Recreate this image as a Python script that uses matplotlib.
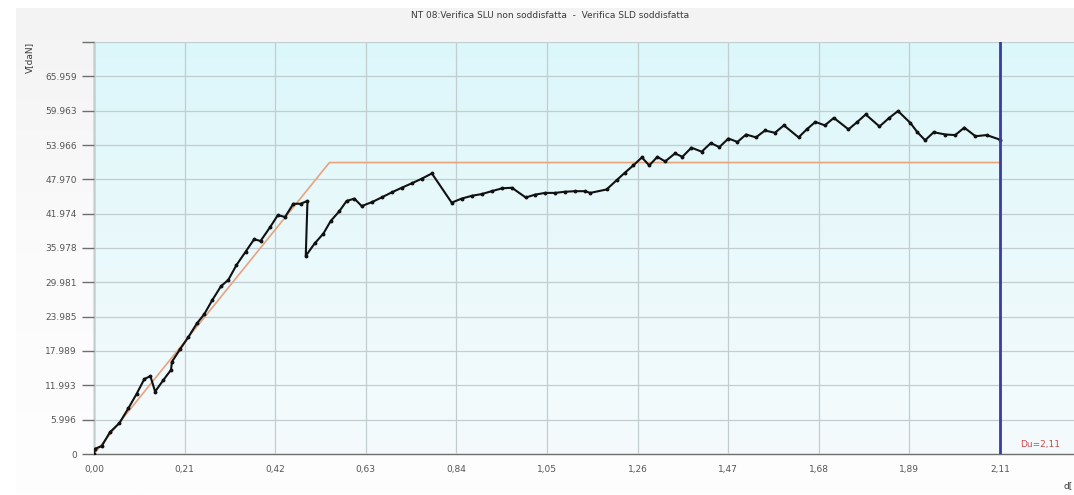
import numpy as np
import matplotlib
matplotlib.use("Agg")
import matplotlib.pyplot as plt
from matplotlib.ticker import FixedLocator, FixedFormatter
from matplotlib.colors import LinearSegmentedColormap

# --- data -------------------------------------------------------------
title = "NT 08:Verifica SLU non soddisfatta  -  Verifica SLD soddisfatta"
y_label = "V[daN]"
x_label = "d["

# capacity curve (displacement d, shear V)
curve_d = [0.000, 0.002, 0.018, 0.037, 0.059, 0.080, 0.099, 0.117, 0.131, 0.142,
           0.161, 0.179, 0.181, 0.200, 0.219, 0.239, 0.256, 0.275, 0.295, 0.312,
           0.331, 0.352, 0.372, 0.387, 0.409, 0.427, 0.444, 0.463, 0.480, 0.496,
           0.492, 0.513, 0.533, 0.550, 0.570, 0.587, 0.605, 0.622, 0.646, 0.668,
           0.692, 0.715, 0.739, 0.762, 0.785, 0.831, 0.854, 0.878, 0.901, 0.924,
           0.948, 0.971, 1.003, 1.025, 1.048, 1.071, 1.094, 1.118, 1.141, 1.153,
           1.191, 1.214, 1.233, 1.253, 1.273, 1.290, 1.309, 1.327, 1.350, 1.367,
           1.388, 1.412, 1.433, 1.453, 1.474, 1.495, 1.515, 1.538, 1.559, 1.582,
           1.603, 1.637, 1.656, 1.676, 1.698, 1.719, 1.753, 1.772, 1.793, 1.825,
           1.846, 1.868, 1.897, 1.913, 1.931, 1.951, 1.978, 2.001, 2.022, 2.048,
           2.074, 2.105]
curve_v = [0.0, 0.9, 1.4, 3.8, 5.4, 8.0, 10.5, 13.1, 13.6, 10.9,
           12.9, 14.7, 16.1, 18.3, 20.4, 22.8, 24.4, 26.9, 29.3, 30.4,
           33.0, 35.3, 37.5, 37.2, 39.6, 41.7, 41.4, 43.7, 43.7, 44.2,
           34.6, 36.8, 38.5, 40.7, 42.4, 44.2, 44.6, 43.3, 44.0, 44.8,
           45.7, 46.5, 47.3, 48.1, 49.0, 43.9, 44.6, 45.1, 45.4, 45.9,
           46.4, 46.5, 44.8, 45.3, 45.6, 45.6, 45.8, 45.9, 45.9, 45.6,
           46.2, 47.8, 49.1, 50.4, 51.8, 50.4, 51.9, 51.1, 52.5, 51.9,
           53.5, 52.8, 54.3, 53.6, 55.1, 54.5, 55.8, 55.3, 56.5, 56.1,
           57.4, 55.3, 56.7, 58.0, 57.4, 58.7, 56.7, 57.9, 59.3, 57.2,
           58.6, 59.9, 57.8, 56.2, 54.8, 56.2, 55.8, 55.7, 57.0, 55.5,
           55.7, 54.9]

# equivalent bilinear curve
bilinear_d = [0.0, 0.547, 2.105]
bilinear_v = [0.0, 50.9, 50.9]

# ultimate displacement
du = 2.105
du_text = "Du=2,11"

# axis ticks
x_ticks = [0.0, 0.2105, 0.421, 0.6315, 0.842, 1.0525, 1.263, 1.4735, 1.684, 1.8945, 2.105]
x_tick_labels = ["0,00", "0,21", "0,42", "0,63", "0,84", "1,05", "1,26", "1,47", "1,68", "1,89", "2,11"]
y_ticks = [0.0, 5.996, 11.993, 17.989, 23.985, 29.981, 35.978, 41.974, 47.970, 53.966,
           59.963, 65.959, 71.955]
y_tick_labels = ["0", "5.996", "11.993", "17.989", "23.985", "29.981", "35.978", "41.974",
                 "47.970", "53.966", "59.963", "65.959", ""]

# --- figure -----------------------------------------------------------
W, H = 1074, 495
fig = plt.figure(figsize=(W / 100, H / 100), dpi=100)
fig.patch.set_facecolor("white")

# soft grey panel behind the chart
grad = np.linspace(0, 1, 256).reshape(-1, 1)
bg = fig.add_axes([16 / W, 0, 1 - 16 / W, 1 - 8 / H], zorder=-10)
panel_cmap = LinearSegmentedColormap.from_list("panel", ["#fefefe", "#fbfbfb", "#f3f3f3"])
bg.imshow(grad, aspect="auto", cmap=panel_cmap, origin="lower", extent=[0, 1, 0, 1])
bg.set_axis_off()

left = 94 / W
bottom = 1 - 454 / H
top = 1 - 42 / H
ax = fig.add_axes([left, bottom, 1 - left, top - bottom])

x_max = (W - 94) * 0.0023234
y_max = 71.955
ax.set_xlim(0, x_max)
ax.set_ylim(0, y_max)

# plot-area gradient
area_cmap = LinearSegmentedColormap.from_list("area", ["#f5fbfd", "#eaf9fb", "#dcf7fa"])
ax.imshow(grad, aspect="auto", cmap=area_cmap, origin="lower",
          extent=[0, x_max, 0, y_max], zorder=0)

ax.xaxis.set_major_locator(FixedLocator(x_ticks))
ax.xaxis.set_major_formatter(FixedFormatter(x_tick_labels))
ax.yaxis.set_major_locator(FixedLocator(y_ticks))
ax.yaxis.set_major_formatter(FixedFormatter(y_tick_labels))
ax.grid(True, color="#c2cdd2", linewidth=0.9, zorder=1)
ax.set_axisbelow(False)

for side in ("top", "right"):
    ax.spines[side].set_visible(False)
for side in ("left", "bottom"):
    ax.spines[side].set_color("#6e6e6e")
    ax.spines[side].set_linewidth(1.0)
ax.tick_params(axis="both", colors="#6e6e6e", labelcolor="#555555", labelsize=6.5,
               length=9, width=1.0)
ax.tick_params(axis="x", length=0, pad=8)

ax.plot(bilinear_d, bilinear_v, color="#e8a27e", linewidth=1.2, zorder=3)
ax.plot(curve_d, curve_v, color="#111111", linewidth=1.5, marker="o", markersize=1.8,
        zorder=4)
ax.axvline(du, color="#3a3aa8", linewidth=2.0, zorder=5)

ax.text(2.151, 1.6, du_text, color="#d04848", fontsize=6.5,
        ha="left", va="center", zorder=6)

fig.text(550 / W, 1 - 16 / H, title, ha="center", va="center", fontsize=6.5,
         color="#3a3a3a")
fig.text(30 / W, 1 - 57 / H, y_label, ha="center", va="center", rotation=90,
         fontsize=6.5, color="#3a3a3a")
fig.text(1073 / W, 1 - 486 / H, x_label, ha="right", va="center", fontsize=6.5,
         color="#3a3a3a")

fig.savefig("out.png", dpi=100)
